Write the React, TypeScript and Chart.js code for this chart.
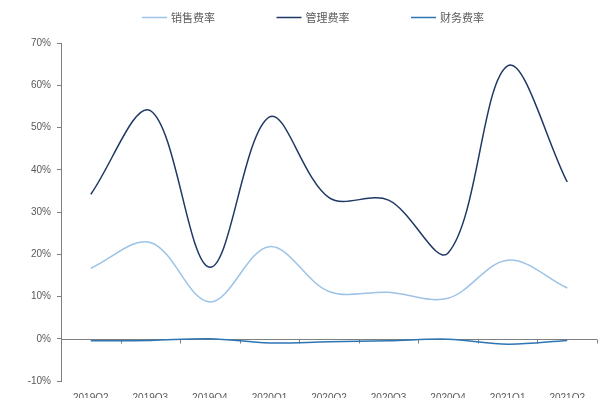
import React, { useEffect, useRef } from "react";
import { Chart, registerables } from "chart.js";

Chart.register(...registerables);

const quarters = ["2019Q2", "2019Q3", "2019Q4", "2020Q1", "2020Q2", "2020Q3", "2020Q4", "2021Q1", "2021Q2"];
const salesRate = [16.7, 22.8, 8.7, 21.8, 11.2, 11.0, 9.6, 18.6, 12.0];
const adminRate = [34.2, 54.0, 16.9, 52.5, 33.4, 32.8, 20.3, 64.6, 37.1];
const financeRate = [-0.5, -0.4, 0.0, -1.0, -0.7, -0.5, -0.1, -1.3, -0.4];

const yTicksMin = -10;
const yTicksMax = 70;
const yStep = 10;

const axisGrey = "#7f7f7f";
const textGrey = "#595959";

// Horizontal zero line with small tick marks at every category boundary
const zeroLinePlugin = {
  id: "zeroLine",
  beforeDatasetsDraw(chart: any) {
    const { ctx, chartArea, scales } = chart;
    const x = scales.x;
    const y = scales.y;
    const y0 = Math.round(y.getPixelForValue(0)) + 0.5;
    ctx.save();
    ctx.strokeStyle = axisGrey;
    ctx.lineWidth = 1;
    ctx.beginPath();
    ctx.moveTo(chartArea.left, y0);
    ctx.lineTo(chartArea.right, y0);
    for (let i = 0; i <= quarters.length; i++) {
      const px = Math.round(x.getPixelForValue(i - 0.5)) + 0.5;
      ctx.moveTo(px, y0);
      ctx.lineTo(px, y0 + 4);
    }
    ctx.stroke();
    ctx.restore();
  },
};

// One-row legend: a short line sample followed by the series name, wide gaps between entries
const legendRowPlugin = {
  id: "legendRow",
  afterDraw(chart: any) {
    const { ctx } = chart;
    const sample = 25;
    const gap = 4;
    const step = 134.5;
    const startX = 142;
    const cy = 17.5;
    ctx.save();
    ctx.font = "11px 'Noto Sans CJK SC', sans-serif";
    ctx.textBaseline = "middle";
    chart.data.datasets.forEach((ds: any, i: number) => {
      const x0 = startX + i * step;
      ctx.strokeStyle = ds.borderColor;
      ctx.lineWidth = 1.5;
      ctx.beginPath();
      ctx.moveTo(x0, cy);
      ctx.lineTo(x0 + sample, cy);
      ctx.stroke();
      ctx.fillStyle = textGrey;
      ctx.fillText(ds.label, x0 + sample + gap, cy);
    });
    ctx.restore();
  },
};

export default function App() {
  const ref = useRef<HTMLCanvasElement | null>(null);

  useEffect(() => {
    if (!ref.current) return;
    const chart = new Chart(ref.current, {
      type: "line",
      data: {
        labels: quarters,
        datasets: [
          { label: "销售费率", data: salesRate, borderColor: "#9dc3e6", backgroundColor: "#9dc3e6", borderWidth: 1.5 },
          { label: "管理费率", data: adminRate, borderColor: "#1f3864", backgroundColor: "#1f3864", borderWidth: 1.5 },
          { label: "财务费率", data: financeRate, borderColor: "#2e75b6", backgroundColor: "#2e75b6", borderWidth: 1.5 },
        ],
      },
      options: {
        animation: false,
        responsive: false,
        maintainAspectRatio: false,
        elements: {
          point: { radius: 0, hoverRadius: 0 },
          line: { tension: 0.35, fill: false },
        },
        layout: { padding: { left: 0, right: 8, top: 43, bottom: 0 } },
        plugins: {
          tooltip: { enabled: false },
          legend: { display: false },
        },
        scales: {
          x: {
            offset: true,
            grid: { display: false, offset: true },
            border: { display: false },
            ticks: {
              color: textGrey,
              font: { family: "'Liberation Sans', sans-serif", size: 10 },
              padding: 3,
              maxRotation: 0,
              autoSkip: false,
            },
            afterFit(scale: any) {
              scale.height = 23;
            },
          },
          y: {
            min: yTicksMin,
            max: yTicksMax,
            border: { display: true, color: axisGrey, width: 1 },
            grid: { drawOnChartArea: false, drawTicks: true, tickLength: 4, color: axisGrey },
            ticks: {
              stepSize: yStep,
              color: textGrey,
              padding: 6,
              font: { family: "'Liberation Sans', sans-serif", size: 10 },
              callback: (v: any) => `${v}%`,
            },
            afterFit(scale: any) {
              scale.width = 61;
            },
          },
        },
      },
      plugins: [zeroLinePlugin, legendRowPlugin],
    });
    return () => chart.destroy();
  }, []);

  return (
    <div style={{ position: "fixed", left: 0, top: 0, width: 605, height: 398, overflow: "hidden", background: "#fff" }}>
      <canvas ref={ref} width={605} height={404} style={{ display: "block" }} />
    </div>
  );
}
